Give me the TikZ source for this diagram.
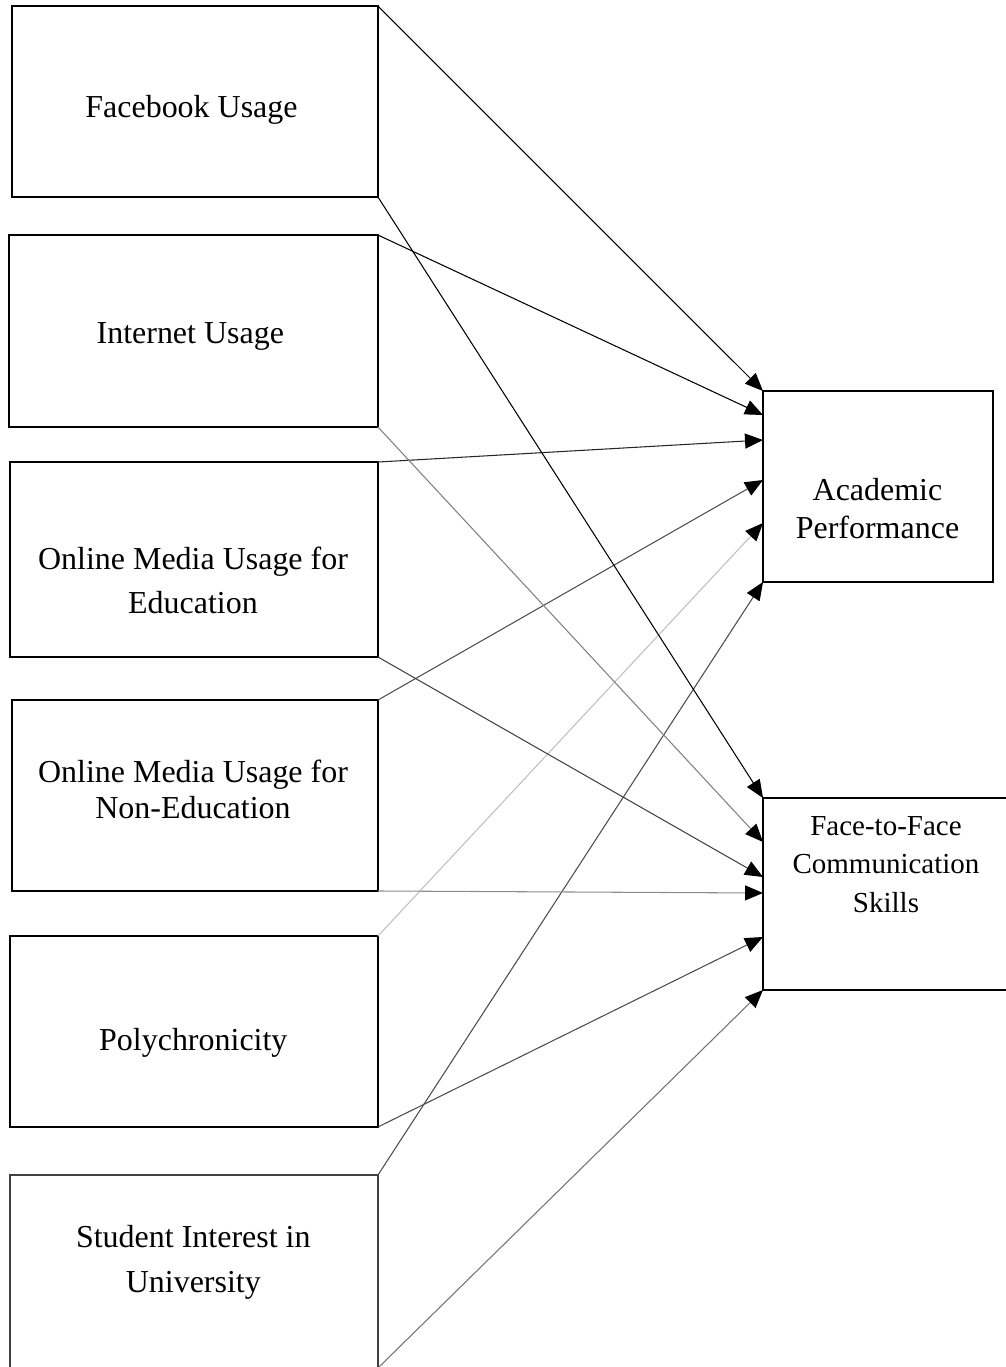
\documentclass[tikz,border=0pt]{standalone}
\usepackage{fontspec}
\setmainfont{Liberation Serif}
\usetikzlibrary{arrows.meta}

\tikzset{
  varbox/.style={draw, line width=1.1pt, inner sep=0pt, outer sep=0pt},
  vartext/.style={anchor=base, align=center},
  link/.style={line width=0.6pt, -{Triangle[length=0.36cm,width=0.30cm,color=black]}}
}

\begin{document}
\begin{tikzpicture}[x=0.02cm, y=-0.02cm]
    \useasboundingbox (0,0) rectangle (1006,1367);

    % 左侧自变量框
    \node[varbox, minimum width=7.32cm, minimum height=3.82cm] (fb) at (195,101.5) {};
    \node[varbox, minimum width=7.38cm, minimum height=3.84cm] (inet) at (193.5,331) {};
    \node[varbox, minimum width=7.36cm, minimum height=3.90cm] (edu) at (194,559.5) {};
    \node[varbox, minimum width=7.32cm, minimum height=3.82cm] (nonedu) at (195,795.5) {};
    \node[varbox, minimum width=7.36cm, minimum height=3.82cm] (poly) at (194,1031.5) {};
    \node[varbox, draw=black!75, minimum width=7.36cm, minimum height=3.86cm] (interest) at (194,1271.5) {};

    % 右侧因变量框
    \node[varbox, minimum width=4.60cm, minimum height=3.82cm] (acad) at (878,486.5) {};
    \node[varbox, minimum width=5.00cm, minimum height=3.84cm] (ftf) at (888,894) {};

    % 框内文字（多行时以末行基线定位）
    \node[vartext, font=\fontsize{18.2}{22}\selectfont] (fbtext) at (191.5,117) {Facebook Usage};
    \node[vartext, font=\fontsize{18.2}{22}\selectfont] (inettext) at (190.3,343) {Internet Usage};
    \node[vartext, font=\fontsize{18.2}{24.5}\selectfont] (edutext) at (193,613) {Online Media Usage for\\Education};
    \node[vartext, font=\fontsize{18.2}{20}\selectfont] (nonedutext) at (193,818) {Online Media Usage for\\Non-Education};
    \node[vartext, font=\fontsize{18.2}{22}\selectfont] (polytext) at (193.3,1050) {Polychronicity};
    \node[vartext, font=\fontsize{18.2}{25.6}\selectfont] (interesttext) at (193.3,1292) {Student Interest in\\University};
    \node[vartext, font=\fontsize{18.2}{21.6}\selectfont] (acadtext) at (877.5,538) {Academic\\Performance};
    \node[vartext, font=\fontsize{16.5}{21.9}\selectfont] (ftftext) at (886,912) {Face-to-Face\\Communication\\Skills};

    % 指向学业表现的箭头
    \draw[link] (fb.north east) -- (acad.north west);
    \draw[link] (inet.north east) -- ([yshift=-0.48cm]acad.north west);
    \draw[link, black!85] (edu.north east) -- ([yshift=-0.98cm]acad.north west);
    \draw[link, black!70] (nonedu.north east) -- ([yshift=-1.78cm]acad.north west);
    \draw[link, black!25] (poly.north east) -- ([yshift=-2.64cm]acad.north west);
    \draw[link, black!70] (interest.north east) -- (acad.south west);

    % 指向面对面沟通能力的箭头
    \draw[link] (fb.south east) -- (ftf.north west);
    \draw[link, black!50] (inet.south east) -- ([yshift=-0.88cm]ftf.north west);
    \draw[link, black!75] (edu.south east) -- ([yshift=-1.58cm]ftf.north west);
    \draw[link, black!45] (nonedu.south east) -- ([yshift=-1.90cm]ftf.north west);
    \draw[link, black!70] (poly.south east) -- ([yshift=-2.78cm]ftf.north west);
    \draw[link, black!55] (interest.south east) -- (ftf.south west);
\end{tikzpicture}
\end{document}
